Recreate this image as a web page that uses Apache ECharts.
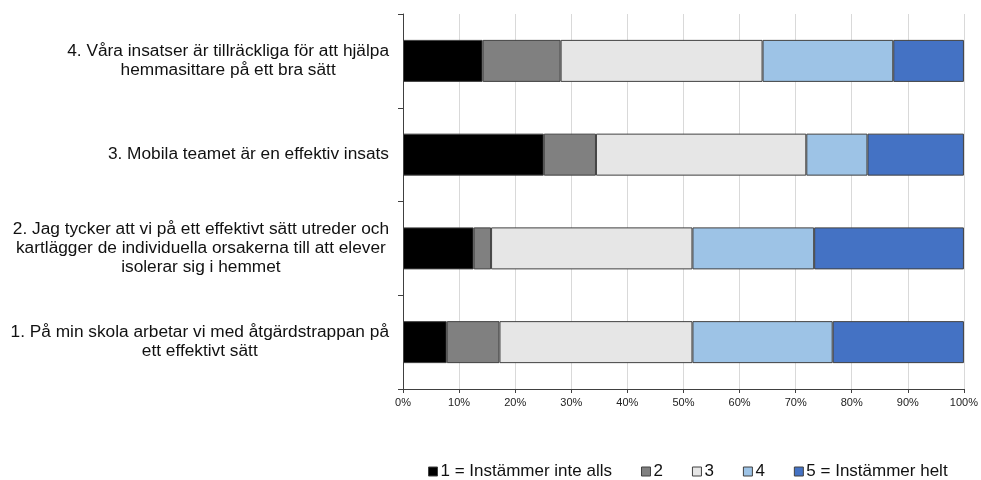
<!DOCTYPE html>
<html><head><meta charset="utf-8">
<script src="https://cdn.jsdelivr.net/npm/echarts@6/dist/echarts.min.js"></script>
<style>html,body{margin:0;padding:0;background:#fff}#c{width:981px;height:480px}</style>
</head><body><div id="c"></div>
<script>
const categories = [
  "1. På min skola arbetar vi med åtgärdstrappan på\nett effektivt sätt",
  "2. Jag tycker att vi på ett effektivt sätt utreder och\nkartlägger de individuella orsakerna till att elever\nisolerar sig i hemmet",
  "3. Mobila teamet är en effektiv insats",
  "4. Våra insatser är tillräckliga för att hjälpa\nhemmasittare på ett bra sätt"
];
const seriesNames = ["1 = Instämmer inte alls", "2", "3", "4", "5 = Instämmer helt"];
const s1 = [7.8, 12.6, 25.1, 14.2];
const s2 = [9.4, 3.1, 9.3, 13.9];
const s3 = [34.4, 35.9, 37.5, 36.0];
const s4 = [25.0, 21.7, 10.9, 23.3];
const s5 = [23.4, 26.7, 17.2, 12.6];
const colors = ["#000000", "#808080", "#e6e6e6", "#9dc3e6", "#4472c4"];
const xTicks = [0, 10, 20, 30, 40, 50, 60, 70, 80, 90, 100];

const values = [s1, s2, s3, s4, s5];
const chart = echarts.init(document.getElementById('c'), null, {renderer: 'canvas'});
const font = '"Liberation Sans", Arial, sans-serif';
chart.setOption({
  animation: false,
  color: colors,
  grid: {left: 403, right: 13.5, top: 14, bottom: 91, containLabel: false},
  legend: {
    top: 458, left: 423,
    itemWidth: 9, itemHeight: 9, itemGap: 29,
    textStyle: {fontFamily: font, fontSize: 17, color: '#111', padding: [0, 0, 0, -2]},
    data: seriesNames.map((n, i) => ({name: n, icon: 'rect', itemStyle: {borderColor: '#404040', borderWidth: 1}}))
  },
  xAxis: {
    type: 'value', min: 0, max: 100, interval: 10,
    axisLine: {show: true, lineStyle: {color: '#404040', width: 1}},
    axisTick: {show: true, length: 4, lineStyle: {color: '#404040'}},
    splitLine: {show: true, lineStyle: {color: '#d9d9d9', width: 1}},
    axisLabel: {fontFamily: font, fontSize: 11, color: '#222', margin: 8,
      formatter: v => xTicks.includes(v) ? v + '%' : ''}
  },
  yAxis: {
    type: 'category', data: categories,
    axisLine: {show: true, lineStyle: {color: '#404040', width: 1}},
    axisTick: {show: true, length: 5, lineStyle: {color: '#404040'}},
    axisLabel: {
      fontFamily: font, fontSize: 17.3, color: '#111', margin: 14, align: 'right', lineHeight: 19,
      formatter: v => v.split('\n').map(l => '{c|' + l + '}').join('\n'),
      rich: {c: {align: 'center', fontFamily: font, fontSize: 17.3, color: '#111', lineHeight: 19}}
    }
  },
  series: values.map((d, i) => ({
    name: seriesNames[i], type: 'bar', stack: 'all', data: d, barWidth: 42,
    itemStyle: {color: colors[i], borderColor: '#404040', borderWidth: 1}
  }))
});
</script></body></html>
